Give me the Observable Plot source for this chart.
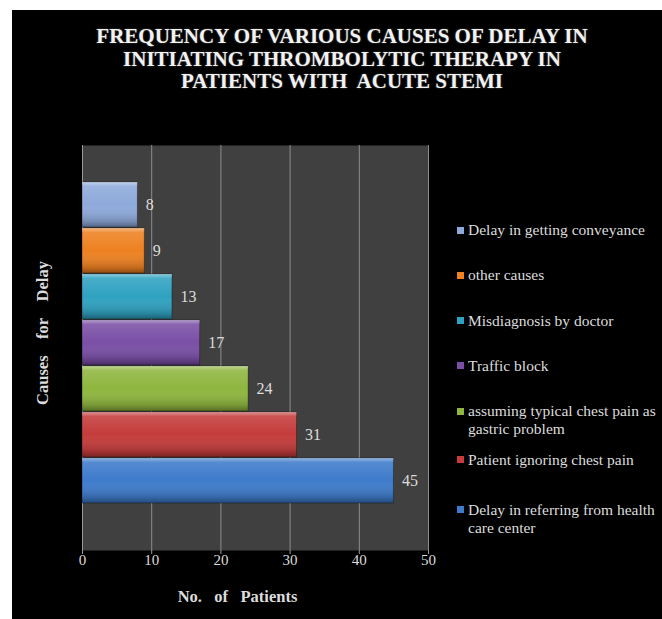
<!DOCTYPE html>
<html>
<head>
<meta charset="utf-8">
<script src="https://cdn.jsdelivr.net/npm/d3@7"></script>
<script src="https://cdn.jsdelivr.net/npm/@observablehq/plot@0.6"></script>
<style>
  html, body { margin: 0; padding: 0; background: #fff; width: 662px; height: 619px; overflow: hidden; }
  #frame { position: absolute; left: 12px; top: 10px; width: 650px; height: 609px; background: #000; overflow: hidden; }
  #title { position: absolute; top: 15px; left: 0; width: 660px; text-align: center; color: #f2f2f2;
           font-family: 'Liberation Serif'; font-weight: bold; font-size: 21px; line-height: 22.5px;
           text-shadow: 0 0 2px rgba(255,255,255,0.35); }
  #chart { position: absolute; left: 0; top: 120px; }
  #legend { position: absolute; left: 445px; top: 211px; width: 205px; font-family: 'Liberation Serif';
            font-size: 15.5px; line-height: 18px; color: #dcdcdc; }
  .item { position: relative; padding-left: 11px; white-space: nowrap; margin-bottom: 27.3px; }
  .item .sw { position: absolute; left: 0; top: 5.5px; width: 7px; height: 7px; }
  .item:nth-child(5) { margin-bottom: 12.8px; }
  .item:nth-child(6) { margin-bottom: 32px; }
</style>
</head>
<body>
<div id="frame">
  <div id="title">FREQUENCY OF VARIOUS CAUSES OF DELAY IN<br>INITIATING THROMBOLYTIC THERAPY IN<br>PATIENTS WITH&nbsp; ACUTE STEMI</div>
  <div id="chart"></div>
  <div id="legend"></div>
</div>
<script>
const causes = [
  "Delay in getting conveyance",
  "other causes",
  "Misdiagnosis by doctor",
  "Traffic block",
  "assuming typical chest pain as gastric problem",
  "Patient ignoring chest pain",
  "Delay in referring from health care center"
];
const legendLabels = [
  "Delay in getting conveyance",
  "other causes",
  "Misdiagnosis by doctor",
  "Traffic block",
  "assuming typical chest pain as<br>gastric problem",
  "Patient ignoring chest pain",
  "Delay in referring from health<br>care center"
];
const counts = [8, 9, 13, 17, 24, 31, 45];
const colors = ["#8eaadb", "#ee8121", "#2fa2c1", "#7a4fa6", "#8fb63f", "#c43c3b", "#3e7bcb"];
const xTicks = [0, 10, 20, 30, 40, 50];

const data = causes.map((c, i) => ({cause: c, value: counts[i]}));
const serif = "Liberation Serif";

const chart = Plot.plot({
  width: 430,
  height: 489,
  marginLeft: 70,
  marginRight: 14,
  marginTop: 15,
  marginBottom: 69,
  style: {background: "transparent", color: "#dcdcdc", fontFamily: serif, fontSize: "14px"},
  x: {domain: [0, 50], ticks: xTicks},
  y: {domain: causes, insetTop: 35, insetBottom: 45, paddingInner: 0.03, paddingOuter: 0, axis: null},
  color: {domain: causes, range: colors},
  marks: [
    Plot.frame({fill: "#404040", stroke: null}),
    Plot.gridX(xTicks.slice(1), {stroke: "#8c8c8c", strokeOpacity: 1, strokeWidth: 1}),
    Plot.ruleX([0], {stroke: "#9a9a9a"}),
    Plot.barX(data, {x: "value", y: "cause", fill: "cause", stroke: "#00000055", strokeWidth: 1}),
    Plot.barX(data, {x: "value", y: "cause", fill: "url(#shine)"}),
    Plot.text(data, {x: "value", y: "cause", text: d => String(d.value), textAnchor: "start", dx: 8, fill: "#dcdcdc", fontSize: 16, fontFamily: serif}),
    Plot.axisX(xTicks, {tickSize: 4, tickPadding: 0, stroke: "#9a9a9a", fill: "#dcdcdc", fontSize: 15, fontFamily: serif, label: null}),
    Plot.text(["No.\u00a0\u00a0 of\u00a0\u00a0 Patients"], {frameAnchor: "bottom", dy: 51, dx: -18, fontWeight: "bold", fontSize: 16.5, fontFamily: serif, fill: "#dcdcdc"}),
    Plot.text(["Causes\u00a0\u00a0\u00a0 for\u00a0\u00a0\u00a0 Delay"], {frameAnchor: "left", textAnchor: "middle", dx: -40, dy: -15, rotate: -90, fontWeight: "bold", fontSize: 16.5, fontFamily: serif, fill: "#dcdcdc"})
  ]
});

const defs = d3.select(chart).insert("defs", ":first-child");
const g = defs.append("linearGradient").attr("id", "shine").attr("x1", 0).attr("y1", 0).attr("x2", 0).attr("y2", 1);
g.append("stop").attr("offset", "0%").attr("stop-color", "#fff").attr("stop-opacity", 0.45);
g.append("stop").attr("offset", "10%").attr("stop-color", "#fff").attr("stop-opacity", 0.12);
g.append("stop").attr("offset", "50%").attr("stop-color", "#fff").attr("stop-opacity", 0);
g.append("stop").attr("offset", "88%").attr("stop-color", "#000").attr("stop-opacity", 0.18);
g.append("stop").attr("offset", "100%").attr("stop-color", "#000").attr("stop-opacity", 0.4);

document.getElementById("chart").appendChild(chart);

const legend = document.getElementById("legend");
causes.forEach((c, i) => {
  const item = document.createElement("div");
  item.className = "item";
  item.innerHTML = `<span class="sw" style="background:${colors[i]}"></span>${legendLabels[i]}`;
  legend.appendChild(item);
});
</script>
</body>
</html>
